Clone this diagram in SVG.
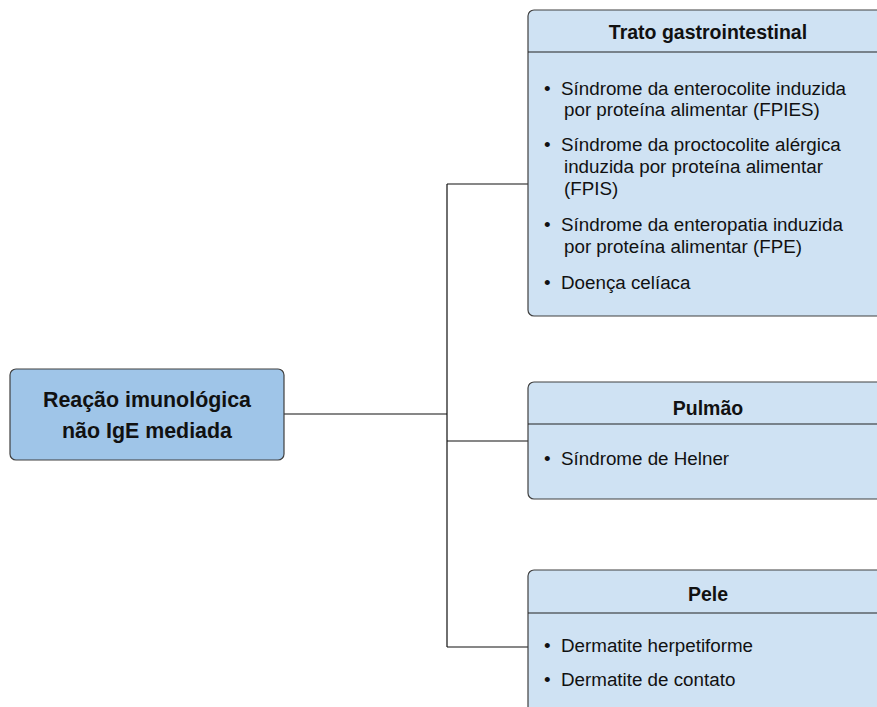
<svg xmlns="http://www.w3.org/2000/svg" width="877" height="707" viewBox="0 0 877 707">
<style>
.box{fill:#cfe2f3;stroke:#404040;stroke-width:1.2}
.main{fill:#9fc5e8;stroke:#404040;stroke-width:1.2}
.sep{stroke:#222;stroke-width:1.2}
.ttl{font-family:"Liberation Sans",Arial,sans-serif;font-weight:bold;font-size:19.5px;fill:#111;text-anchor:middle}
.mt{font-family:"Liberation Sans",Arial,sans-serif;font-weight:bold;font-size:21.4px;fill:#111;text-anchor:middle}
.b{font-family:"Liberation Sans",Arial,sans-serif;font-size:18.8px;fill:#111}
.con{fill:none;stroke:#111;stroke-width:1.2}
</style>
<rect width="877" height="707" fill="#ffffff"/>
<g id="connectors">
<path class="con" d="M284 414 H447 M447 184 V647 M447 184 H528 M447 441 H528 M447 647 H528"/>
</g>
<g id="main">
<rect class="main" x="10" y="369" width="274" height="91" rx="6"/>
<text class="mt" x="147" y="407">Reação imunológica</text>
<text class="mt" x="147" y="438">não IgE mediada</text>
</g>
<g id="gastro">
<rect class="box" x="528" y="10" width="360" height="306" rx="6"/>
<line class="sep" x1="528" y1="52" x2="888" y2="52"/>
<text class="ttl" x="708" y="39">Trato gastrointestinal</text>
<text class="b" x="544" y="95">•</text><text class="b" x="561" y="95">Síndrome da enterocolite induzida</text>
<text class="b" x="564" y="116">por proteína alimentar (FPIES)</text>
<text class="b" x="544" y="151">•</text><text class="b" x="561" y="151">Síndrome da proctocolite alérgica</text>
<text class="b" x="564" y="173">induzida por proteína alimentar</text>
<text class="b" x="564" y="195">(FPIS)</text>
<text class="b" x="544" y="231">•</text><text class="b" x="561" y="231">Síndrome da enteropatia induzida</text>
<text class="b" x="564" y="253">por proteína alimentar (FPE)</text>
<text class="b" x="544" y="289">•</text><text class="b" x="561" y="289">Doença celíaca</text>
</g>
<g id="pulmao">
<rect class="box" x="528" y="382" width="360" height="117" rx="6"/>
<line class="sep" x1="528" y1="424" x2="888" y2="424"/>
<text class="ttl" x="708" y="415">Pulmão</text>
<text class="b" x="544" y="465">•</text><text class="b" x="561" y="465">Síndrome de Helner</text>
</g>
<g id="pele">
<rect class="box" x="528" y="570" width="360" height="160" rx="6"/>
<line class="sep" x1="528" y1="613" x2="888" y2="613"/>
<text class="ttl" x="708" y="601">Pele</text>
<text class="b" x="544" y="652">•</text><text class="b" x="561" y="652">Dermatite herpetiforme</text>
<text class="b" x="544" y="686">•</text><text class="b" x="561" y="686">Dermatite de contato</text>
</g>
</svg>
